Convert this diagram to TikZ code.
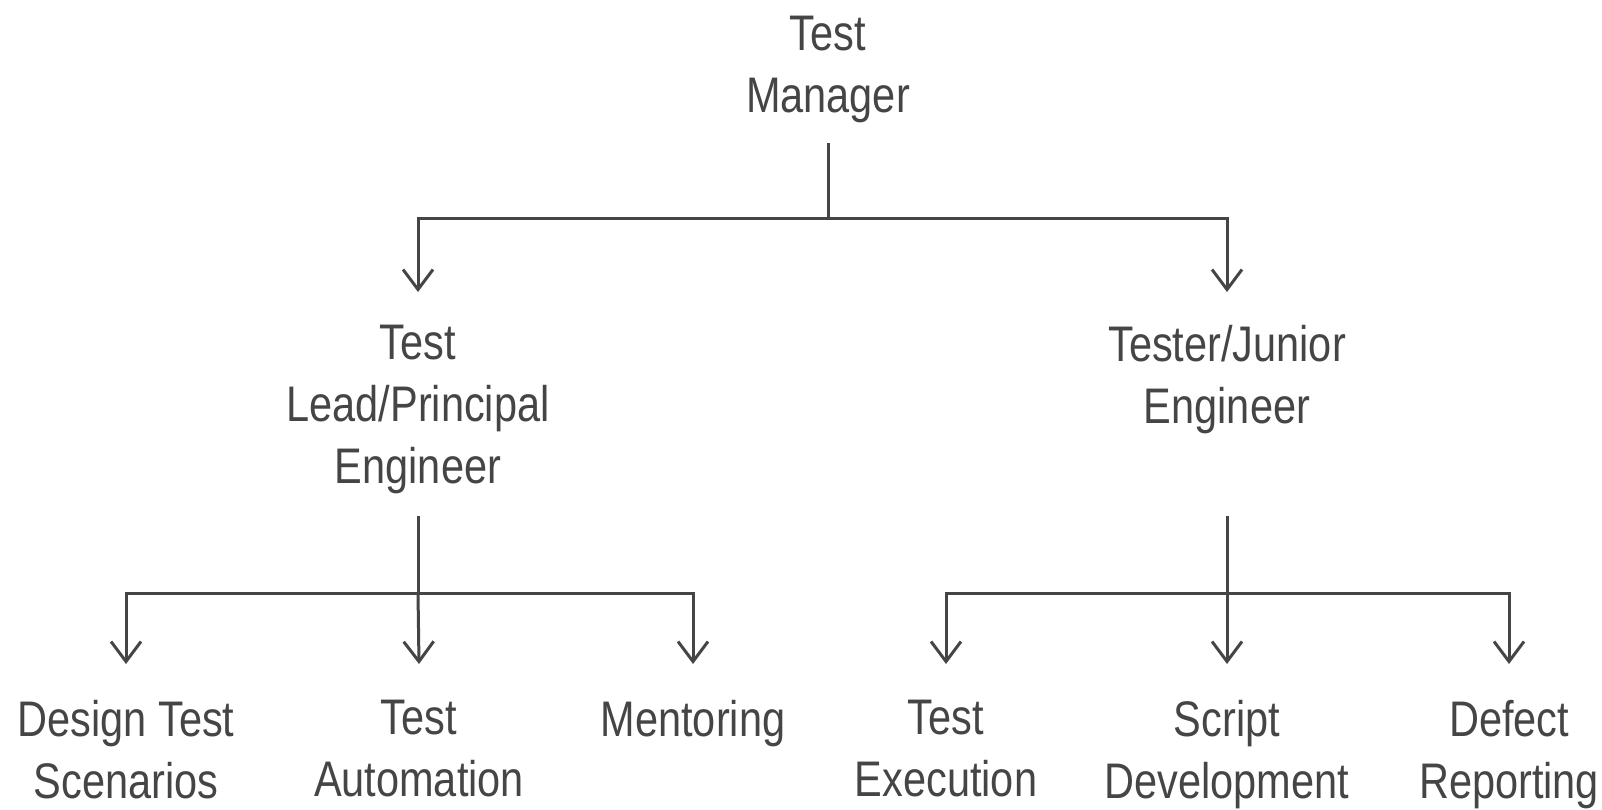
\documentclass[tikz,border=0pt]{standalone}
\usepackage{fontspec}
\setmainfont{Liberation Sans}[FakeStretch=0.83]
\usetikzlibrary{arrows.meta}
\definecolor{ink}{HTML}{454545}
\begin{document}
\begin{tikzpicture}[x=1pt,y=-1pt,
  lbl/.style={anchor=north,inner sep=0pt,outer sep=0pt,align=center,text=ink,
    font=\fontsize{50}{62}\selectfont},
  ln/.style={draw=ink,line width=3pt},
  arr/.style={ln,-{Straight Barb[length=20pt,width=30pt,line width=3pt]}}]
\useasboundingbox (0,0) rectangle (1602,809);
% nodes
\node[lbl] (tm) at (828,16) {Test\\Manager};
\node[lbl] (tl) at (418,325) {Test\\Lead/Principal\\Engineer};
\node[lbl] (tj) at (1227,325) {Tester/Junior\\Engineer};
\node[lbl] (b1) at (126,700) {Design Test\\Scenarios};
\node[lbl] (b2) at (419,700) {Test\\Automation};
\node[lbl] (b3) at (693,700) {Mentoring};
\node[lbl] (b4) at (946,700) {Test\\Execution};
\node[lbl] (b5) at (1227,700) {Script\\Development};
\node[lbl] (b6) at (1509,700) {Defect\\Reporting};
% junctions
\coordinate (ja) at (828,218);
\coordinate (jb) at (418,593);
\coordinate (jc) at (1227,593);
% connectors
\draw[ln] (tm.south |- 0,143) -- (ja);
\draw[arr] (ja) -| ([yshift=33pt]tl.north);
\draw[arr] (ja) -| ([yshift=33pt]tj.north);
\draw[ln] (tl.south |- 0,516) -- (jb);
\draw[arr] (jb) -| ([yshift=36pt]b1.north);
\draw[arr] (jb) -- ([yshift=36pt]b2.north);
\draw[arr] (jb) -| ([yshift=36pt]b3.north);
\draw[ln] (tj.south |- 0,516) -- (jc);
\draw[arr] (jc) -| ([yshift=36pt]b4.north);
\draw[arr] (jc) -- ([yshift=36pt]b5.north);
\draw[arr] (jc) -| ([yshift=36pt]b6.north);
\end{tikzpicture}
\end{document}
